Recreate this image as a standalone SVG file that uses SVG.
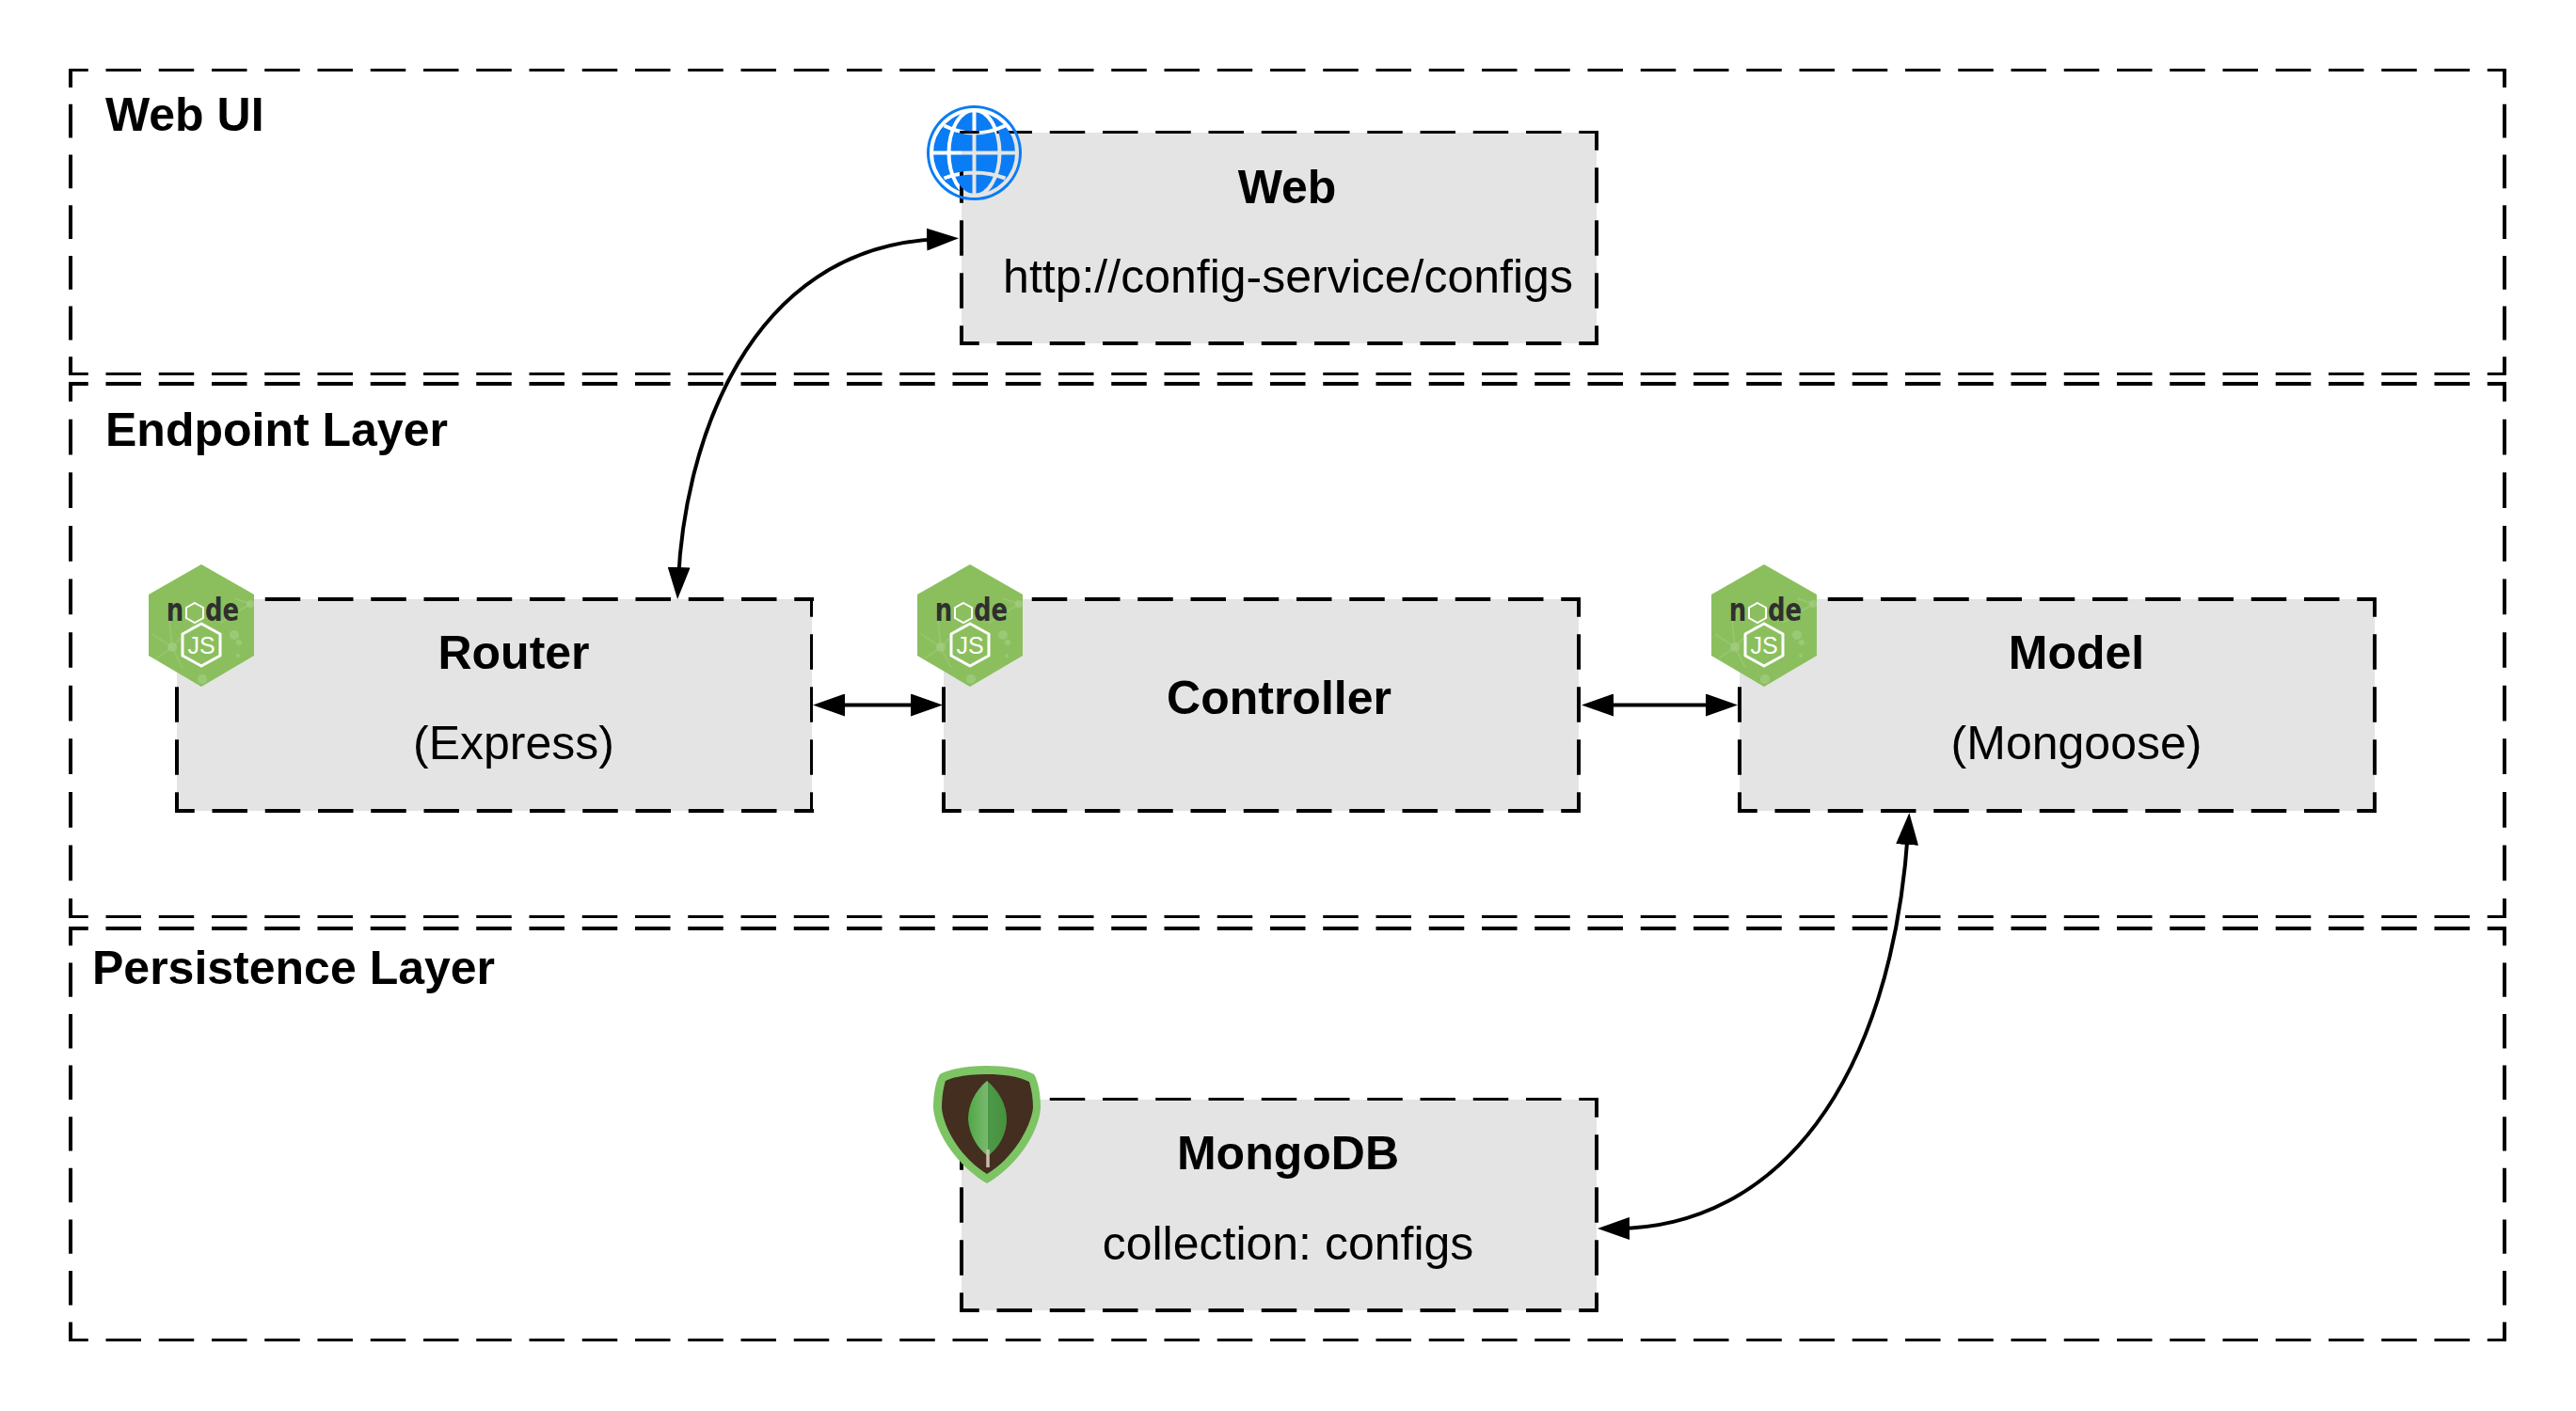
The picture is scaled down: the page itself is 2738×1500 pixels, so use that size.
<svg xmlns="http://www.w3.org/2000/svg" width="2738" height="1500" viewBox="0 0 2738 1500">
<defs>
<style>
.fill{fill:#e4e4e4}
.ln{fill:none;stroke:#000;stroke-width:4}
.th{stroke-width:3}
.dh{stroke-dasharray:37.5 18.75;stroke-dashoffset:16.75}
.dv{stroke-dasharray:37.33 18.67;stroke-dashoffset:16.67}
.f1{stroke-dasharray:35.8 17.9;stroke-dashoffset:15.9}
.f2{stroke-dasharray:37.73 18.87;stroke-dashoffset:16.87}
.f3{stroke-dasharray:36.4 18.2;stroke-dashoffset:16.2}
text{font-family:"Liberation Sans",Arial,sans-serif;fill:#000}
.b{font-weight:700;font-size:50px}
.t{font-weight:700;font-size:50px;text-anchor:middle}
.s{font-size:50px;text-anchor:middle}
.edge{fill:none;stroke:#000;stroke-width:4}
.logoN{font-family:"DejaVu Sans",sans-serif;font-weight:700;font-size:26px;fill:#2f2f2f;text-anchor:middle}
.logoJ{font-family:"Liberation Sans",sans-serif;font-size:25px;fill:#fff;text-anchor:middle}
.glint{fill:none;stroke:#a8d088;stroke-width:1.500;opacity:.5}
</style>
<marker id="a" viewBox="0 0 34 24" refX="14" refY="12" markerWidth="34" markerHeight="24" markerUnits="userSpaceOnUse" orient="auto-start-reverse"><path d="M0,0L34,12L0,24Z" fill="#000"/></marker>
<mask id="globeMask" maskUnits="userSpaceOnUse" x="980" y="107" width="112" height="112">
<rect x="980" y="107" width="112" height="112" fill="#000"/>
<circle cx="1035.500" cy="162.500" r="50.500" fill="#fff"/>
<g transform="translate(1035.500,162.500)" fill="none" stroke="#000" stroke-width="4">
<circle r="45.500"/><ellipse rx="27" ry="45.500"/>
<path d="M0,-46V46M-46,0H46M-32,-29Q0,-13 33,-29M-32,27Q0,15 33,27"/>
</g></mask>
<g id="nodelogo">
<path d="M0,0L56,32V97L0,130L-56,97V32Z" fill="#8bbf5e"/>
<path class="glint" d="M-31,88L-52,74M-31,88L-8,64M-31,88L-48,100M-31,88L-20,110M-31,88L-34,60M52,42L20,62M52,42L35,36"/>
<g fill="#a8d088" opacity=".6"><circle cx="-31" cy="88" r="5"/><circle cx="35" cy="75" r="5"/><circle cx="40" cy="83" r="3"/><circle cx="1" cy="122" r="5"/><circle cx="39" cy="97" r="2"/><circle cx="52" cy="42" r="4"/></g>
<text class="logoN" transform="translate(-28,60) scale(1,1.300)">n</text>
<path d="M-7,41L2,46V57L-7,62L-16,57V46Z" fill="none" stroke="#fff" stroke-width="2"/>
<text class="logoN" transform="translate(22,60) scale(1,1.300)">de</text>
<path d="M0,63L20,74V97L0,108L-20,97V74Z" fill="none" stroke="#fff" stroke-width="3" stroke-linejoin="round"/>
<text class="logoJ" x="0" y="95">JS</text>
</g>
<linearGradient id="leaf" x1="0" x2="1"><stop offset="0" stop-color="#4fa846"/><stop offset=".5" stop-color="#7ab96f"/><stop offset=".5" stop-color="#4c9a48"/><stop offset="1" stop-color="#48903f"/></linearGradient>
</defs>
<rect width="2738" height="1500" fill="#fff"/>
<g id="frame-web">
<path class="ln th dh" d="M73,74.500H2664"/><path class="ln th dh" d="M73,397.500H2664"/>
<path class="ln f1" d="M75,73V399"/><path class="ln f1" d="M2662,73V399"/>
<text class="b" x="112" y="139">Web UI</text></g>
<g id="frame-endpoint">
<path class="ln dh" d="M73,408H2664"/><path class="ln th dh" d="M73,974.500H2664"/>
<path class="ln f2" d="M75,406V976"/><path class="ln f2" d="M2662,406V976"/>
<text class="b" x="112" y="474">Endpoint Layer</text></g>
<g id="frame-persistence">
<path class="ln dh" d="M73,987H2664"/><path class="ln th dh" d="M73,1424.500H2664"/>
<path class="ln f3" d="M75,985V1426"/><path class="ln f3" d="M2662,985V1426"/>
<text class="b" x="98" y="1046">Persistence Layer</text></g>
<g id="node-web">
<rect class="fill" x="1022" y="141" width="675" height="224"/>
<path class="ln th dh" d="M1020,140.500H1699"/><path class="ln dh" d="M1020,365H1699"/>
<path class="ln dv" d="M1022,139V367"/><path class="ln dv" d="M1697,139V367"/>
<text class="t" x="1368" y="216">Web</text><text class="s" x="1369" y="311">http://config-service/configs</text>
<rect x="980" y="107" width="112" height="112" fill="#0a7cf5" mask="url(#globeMask)"/></g>
<g id="node-router">
<rect class="fill" x="188" y="637" width="675" height="225"/>
<path class="ln dh" d="M186,637H865"/><path class="ln dh" d="M186,862H865"/>
<path class="ln dv" d="M188,635V864"/><path class="ln th dv" d="M862.500,635V864"/>
<text class="t" x="546" y="711">Router</text><text class="s" x="546" y="807">(Express)</text>
<use href="#nodelogo" x="214" y="600"/></g>
<g id="node-controller">
<rect class="fill" x="1003" y="637" width="675" height="225"/>
<path class="ln dh" d="M1001,637H1680"/><path class="ln dh" d="M1001,862H1680"/>
<path class="ln dv" d="M1003,635V864"/><path class="ln dv" d="M1678,635V864"/>
<text class="t" x="1359.500" y="759">Controller</text>
<use href="#nodelogo" x="1031" y="600"/></g>
<g id="node-model">
<rect class="fill" x="1849" y="637" width="675" height="225"/>
<path class="ln dh" d="M1847,637H2526"/><path class="ln dh" d="M1847,862H2526"/>
<path class="ln dv" d="M1849,635V864"/><path class="ln dv" d="M2524,635V864"/>
<text class="t" x="2207" y="711">Model</text><text class="s" x="2207" y="807">(Mongoose)</text>
<use href="#nodelogo" x="1875" y="600"/></g>
<g id="node-mongodb">
<rect class="fill" x="1022" y="1169" width="675" height="224"/>
<path class="ln th dh" d="M1020,1168.500H1699"/><path class="ln dh" d="M1020,1393H1699"/>
<path class="ln dv" d="M1022,1167V1395"/><path class="ln dv" d="M1697,1167V1395"/>
<text class="t" x="1369" y="1243">MongoDB</text><text class="s" x="1369" y="1339">collection: configs</text>
<path d="M1049,1133C1030,1133 1010,1136 999,1142C994,1150 992,1165 992,1178C994,1205 1018,1240 1049,1258C1080,1240 1104,1205 1106,1178C1106,1165 1104,1150 1099,1142C1088,1136 1068,1133 1049,1133Z" fill="#7dc464"/>
<path d="M1049,1142C1032,1142 1016,1144 1005,1149C1002,1158 1001,1170 1001,1178C1003,1200 1022,1232 1049,1248C1076,1232 1095,1200 1098,1178C1098,1170 1097,1160 1094,1150C1082,1144 1066,1142 1049,1142Z" fill="#432e20"/>
<path d="M1049,1149C1036,1160 1029,1175 1029,1190C1030,1205 1038,1220 1050,1229C1062,1220 1070,1205 1070,1190C1070,1175 1062,1160 1049,1149Z" fill="url(#leaf)"/>
<path d="M1050,1222V1241" stroke="#c8bea8" stroke-width="3.500"/></g>
<g id="connectors">
<path class="edge" d="M721,617C727,480 790,262 999,254" marker-start="url(#a)" marker-end="url(#a)"/>
<path class="edge" d="M884,749.500H982" marker-start="url(#a)" marker-end="url(#a)"/>
<path class="edge" d="M1701,749.500H1827" marker-start="url(#a)" marker-end="url(#a)"/>
<path class="edge" d="M2028,884C2010,1150 1890,1305 1718,1306" marker-start="url(#a)" marker-end="url(#a)"/>
</g>
</svg>
